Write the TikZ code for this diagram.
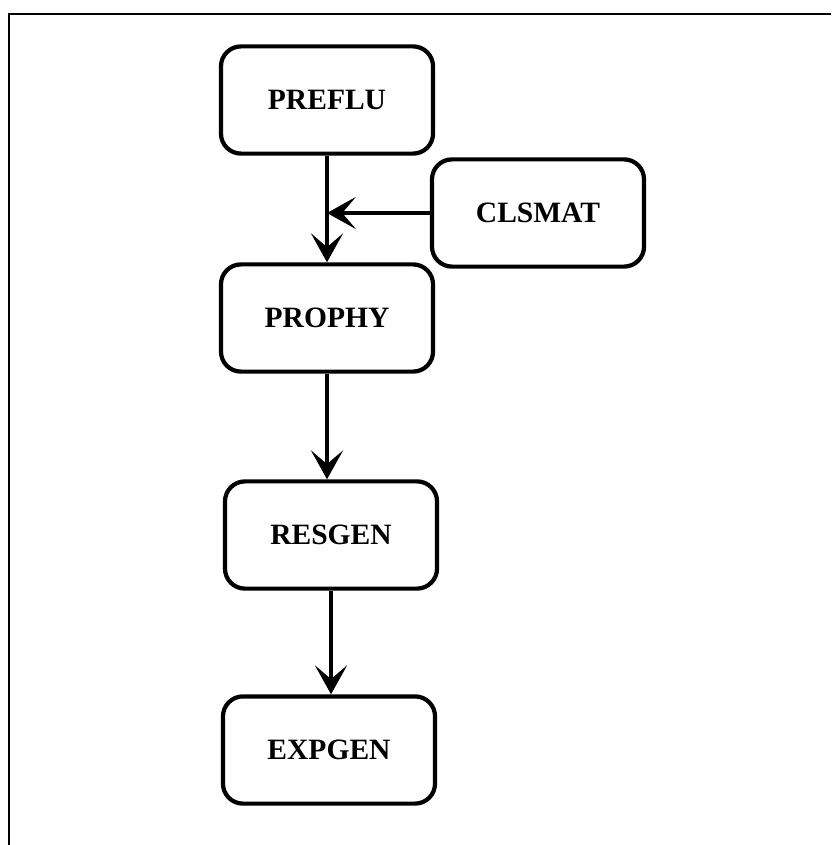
\documentclass[tikz,border=0pt]{standalone}
\usepackage{fontspec}
\setmainfont{Liberation Serif}
\usetikzlibrary{arrows.meta}
\begin{document}
\begin{tikzpicture}[x=0.025cm,y=-0.025cm,
  prog/.style={draw,line width=3pt,rounded corners=0.5cm,minimum width=5.3cm,minimum height=2.68cm,
    inner sep=0pt,font=\fontsize{21}{25}\selectfont\bfseries},
  flow/.style={line width=2.8pt,-{Stealth[length=0.72cm,width=0.8cm,inset=0.34cm]}}]
\useasboundingbox (0,0) rectangle (831,845);
\draw[line width=1.4pt] (831,14) -| (9,845);
\node[prog] (preflu) at (327,100) {PREFLU};
\node[prog] (clsmat) at (538,213) {CLSMAT};
\node[prog] (prophy) at (327,318) {PROPHY};
\node[prog] (resgen) at (331,535) {RESGEN};
\node[prog] (expgen) at (329,750) {EXPGEN};
\coordinate (join) at (preflu.south |- clsmat.west);
\draw[flow] (preflu.south) -- (prophy.north);
\draw[flow] (clsmat.west) -- (join);
\draw[flow] (prophy.south) -- (prophy.south |- resgen.north);
\draw[flow] (resgen.south) -- (resgen.south |- expgen.north);
\end{tikzpicture}
\end{document}
